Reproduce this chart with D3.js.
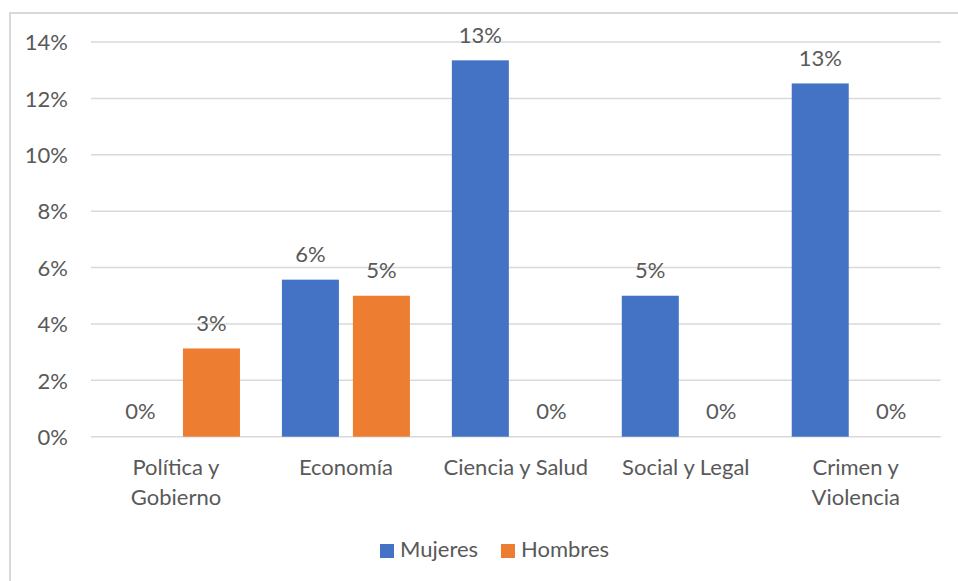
<!DOCTYPE html>
<html>
<head>
<meta charset="utf-8">
<script src="https://cdn.jsdelivr.net/npm/d3@7"></script>
<style>
  html, body { margin: 0; padding: 0; background: #fff; }
  svg { display: block; }
  text { font-family: Lato, "Open Sans", sans-serif; fill: #595959; }
</style>
</head>
<body>
<svg id="chart" width="958" height="581"></svg>
<script>
const categories = [["Política y", "Gobierno"], ["Economía"], ["Ciencia y Salud"], ["Social y Legal"], ["Crimen y", "Violencia"]];
const seriesNames = ["Mujeres", "Hombres"];
const mujeres = [0, 0.0557, 0.1335, 0.05, 0.1253];
const hombres = [0.0313, 0.05, 0, 0, 0];
const yTicks = [0, 0.02, 0.04, 0.06, 0.08, 0.10, 0.12, 0.14];
const colors = ["#4472C4", "#ED7D31"];

const svg = d3.select("#chart");
const W = 958, H = 581;
const plot = { left: 91, right: 940.7, top: 42, bottom: 436.7 };
const fontSize = 22;

// outer border (only left & top visible in reference)
svg.append("rect").attr("x", 10).attr("y", 13).attr("width", 1000).attr("height", 1000)
  .attr("fill", "none").attr("stroke", "#d9d9d9").attr("stroke-width", 2);

const catIdx = categories.map((d, i) => i);
const x0 = d3.scaleBand().domain(catIdx).range([plot.left, plot.right]).paddingInner(0).paddingOuter(0);
const x1 = d3.scaleBand().domain(seriesNames).range([0, x0.bandwidth()]).paddingInner(0.197).paddingOuter(0.2955);
const y = d3.scaleLinear().domain([0, 0.14]).range([plot.bottom, plot.top]);

// gridlines
svg.append("g").selectAll("line").data(yTicks).join("line")
  .attr("x1", plot.left).attr("x2", plot.right)
  .attr("y1", d => y(d)).attr("y2", d => y(d))
  .attr("stroke", "#d9d9d9").attr("stroke-width", 1.5);

// y tick labels
const yAxis = d3.axisLeft(y).tickValues(yTicks).tickFormat(d3.format(".0%")).tickSize(0).tickPadding(0);
const ya = svg.append("g").attr("transform", `translate(68,0)`).call(yAxis);
ya.select(".domain").remove();
ya.selectAll("text").attr("font-size", fontSize).attr("fill", "#595959")
  .style("font-family", "Lato, 'Open Sans', sans-serif").attr("dy", "0.35em");

const data = categories.map((c, i) => ({ i, vals: [mujeres[i], hombres[i]] }));

const groups = svg.append("g").selectAll("g").data(data).join("g")
  .attr("transform", d => `translate(${x0(d.i)},0)`);

groups.selectAll("rect").data(d => d.vals.map((v, k) => ({ v, k })).filter(e => e.v > 0)).join("rect")
  .attr("x", e => x1(seriesNames[e.k]))
  .attr("width", x1.bandwidth())
  .attr("y", e => y(e.v))
  .attr("height", e => y(0) - y(e.v))
  .attr("fill", e => colors[e.k]);

groups.selectAll("text.lbl").data(d => d.vals.map((v, k) => ({ v, k }))).join("text")
  .attr("class", "lbl")
  .attr("x", e => x1(seriesNames[e.k]) + x1.bandwidth() / 2)
  .attr("y", e => y(e.v) - 17.5)
  .attr("text-anchor", "middle")
  .attr("font-size", fontSize)
  .text(e => d3.format(".0%")(e.v));

// category labels
const catG = svg.append("g");
categories.forEach((lines, i) => {
  const t = catG.append("text")
    .attr("x", x0(i) + x0.bandwidth() / 2)
    .attr("y", 475)
    .attr("text-anchor", "middle")
    .attr("font-size", fontSize);
  lines.forEach((ln, j) => {
    t.append("tspan").attr("x", x0(i) + x0.bandwidth() / 2).attr("dy", j === 0 ? 0 : 30).text(ln);
  });
});

// legend
const legend = svg.append("g");
const legendX = [380, 501];
seriesNames.forEach((s, k) => {
  legend.append("rect").attr("x", legendX[k]).attr("y", 544).attr("width", 14).attr("height", 14).attr("fill", colors[k]);
  legend.append("text").attr("x", legendX[k] + 20).attr("y", 557).attr("font-size", fontSize).text(s);
});
</script>
</body>
</html>
